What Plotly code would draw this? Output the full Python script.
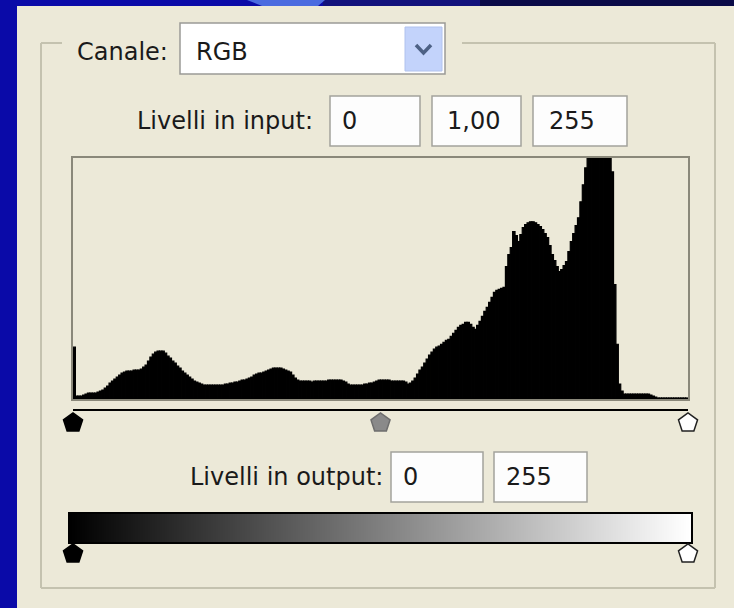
import plotly.graph_objects as go

W, H = 734, 608


def X(px):
    return px / W


def Y(py):
    return 1 - py / H


# ---------------- data ----------------
levels = list(range(256))
hist_counts = [
    52, 3, 3, 3, 4, 5, 6, 6, 6, 6,
    7, 8, 9, 11, 13, 16, 18, 20, 22, 24,
    26, 27, 28, 28, 28, 29, 29, 29, 30, 32,
    34, 38, 42, 45, 47, 48, 48, 48, 46, 43,
    41, 38, 36, 33, 31, 28, 26, 24, 22, 20,
    18, 17, 16, 15, 14, 14, 14, 14, 14, 14,
    14, 14, 14, 15, 15, 16, 16, 17, 17, 18,
    19, 19, 20, 21, 22, 24, 25, 26, 26, 27,
    28, 29, 30, 31, 31, 31, 31, 30, 29, 28,
    27, 24, 21, 19, 18, 18, 18, 18, 18, 17,
    18, 18, 18, 18, 18, 18, 19, 19, 19, 19,
    19, 19, 18, 17, 15, 14, 14, 14, 14, 14,
    14, 15, 15, 16, 16, 17, 18, 19, 19, 19,
    19, 19, 18, 18, 18, 18, 18, 18, 17, 15,
    16, 18, 21, 25, 29, 32, 36, 40, 44, 47,
    50, 52, 53, 55, 57, 59, 60, 63, 66, 69,
    72, 74, 75, 77, 77, 75, 72, 70, 74, 78,
    83, 88, 92, 97, 102, 107, 109, 110, 111, 112,
    133, 145, 152, 168, 164, 158, 165, 172, 175, 177,
    178, 178, 177, 175, 173, 170, 166, 162, 154, 145,
    139, 133, 128, 130, 134, 138, 148, 158, 166, 174,
    182, 198, 215, 232, 250, 262, 268, 272, 275, 273,
    270, 262, 255, 246, 228, 115, 55, 15, 8, 5,
    5, 5, 5, 5, 5, 5, 5, 5, 5, 5,
    4, 3, 2, 1, 1, 1, 1, 1, 1, 1,
    1, 1, 1, 1, 1, 1,
]
channel_label = "Canale:"
channel_value = "RGB"
input_label = "Livelli in input:"
output_label = "Livelli in output:"
input_black, input_gamma, input_white = 0, 1.00, 255
output_black, output_white = 0, 255

input_texts = [str(input_black), f"{input_gamma:.2f}".replace(".", ","), str(input_white)]
output_texts = [str(output_black), str(output_white)]
gamma_pos = input_black + (input_white - input_black) * 0.5 ** (1 / input_gamma)

# ---------------- style ----------------
FONT = dict(family="DejaVu Sans", size=24, color="#1a1a1a")
PANEL = "#ECE9D8"
GROUP = "#C4C2AF"
BOXLINE = "#A3A39C"

shapes = []


def rect(x0, y0, x1, y1, fill, line=None, lw=0, layer="below"):
    shapes.append(dict(type="rect", xref="paper", yref="paper",
                       x0=X(x0), x1=X(x1), y0=Y(y1), y1=Y(y0),
                       fillcolor=fill, layer=layer,
                       line=dict(color=line or fill, width=lw)))


def line(x0, y0, x1, y1, color, lw, layer="below"):
    shapes.append(dict(type="line", xref="paper", yref="paper",
                       x0=X(x0), x1=X(x1), y0=Y(y0), y1=Y(y1),
                       layer=layer, line=dict(color=color, width=lw)))


def path(points, fill=None, color="black", lw=0, closed=True):
    d = "M " + " L ".join(f"{X(a):.5f},{Y(b):.5f}" for a, b in points)
    if closed:
        d += " Z"
    shapes.append(dict(type="path", xref="paper", yref="paper", path=d,
                       fillcolor=fill if fill else "rgba(0,0,0,0)", layer="below",
                       line=dict(color=color, width=lw)))


# background top band
rect(323, 0, 480, 6, "#12127C")
rect(480, 0, 734, 6, "#0A0A48")
path([(247, 0), (325, 0), (318, 6), (262, 6)], fill="#4A6BE0", color="#4A6BE0", lw=0)
# panel
rect(17, 6, 734, 608, PANEL)
# group box
line(41, 43, 62, 43, GROUP, 2)
line(462, 43, 715, 43, GROUP, 2)
line(41, 43, 41, 588, GROUP, 2)
line(715, 43, 715, 588, GROUP, 2)
line(41, 588, 715, 588, GROUP, 2)
# dropdown
rect(180, 23, 445, 74, "#FFFFFF", "#9A9A96", 1.5)
rect(405, 27, 442, 71, "#C3D3FB", "#B0C2EE", 1)
path([(416, 45), (423.5, 53), (431, 45)], color="#4D6185", lw=3.5, closed=False)
# input boxes
for (a, b) in [(330, 420), (432, 521), (533, 627)]:
    rect(a, 96, b, 146, "#FDFDFD", BOXLINE, 1.5)
# output boxes
for (a, b) in [(391, 483), (494, 587)]:
    rect(a, 452, b, 502, "#FDFDFD", BOXLINE, 1.5)

annotations = []


def text(s, x, y, anchor):
    annotations.append(dict(text=s, x=X(x), y=Y(y), xref="paper", yref="paper",
                            xanchor=anchor, yanchor="middle", showarrow=False,
                            font=FONT))


text(channel_label, 75, 52, "left")
text(channel_value, 194, 52, "left")
text(input_label, 315, 121, "right")
for s, x in zip(input_texts, [340, 445, 547]):
    text(s, x, 121, "left")
text(output_label, 385, 477, "right")
for s, x in zip(output_texts, [401, 504]):
    text(s, x, 477, "left")

# ---------------- traces ----------------
fig = go.Figure()
fig.add_trace(go.Bar(x=levels, y=hist_counts, width=1,
                     marker=dict(color="black", line=dict(color="black", width=1.2)),
                     xaxis="x", yaxis="y", hoverinfo="skip"))

fig.add_trace(go.Scatter(
    x=[input_black, gamma_pos, input_white], y=[13, 13, 13], mode="markers",
    cliponaxis=False,
    marker=dict(symbol="pentagon", size=20,
                color=["#000000", "#8A8A8A", "#FFFFFF"],
                line=dict(color=["#000000", "#6E6E6E", "#222222"], width=1.5)),
    xaxis="x2", yaxis="y2", hoverinfo="skip"))

fig.add_trace(go.Heatmap(z=[levels], x=levels, y=[0], zmin=0, zmax=255,
                         colorscale=[[0, "#000000"], [1, "#FFFFFF"]],
                         showscale=False, xaxis="x3", yaxis="y3", hoverinfo="skip"))

fig.add_trace(go.Scatter(
    x=[output_black, output_white], y=[12, 12], mode="markers",
    cliponaxis=False,
    marker=dict(symbol="pentagon", size=20,
                color=["#000000", "#FFFFFF"],
                line=dict(color=["#000000", "#222222"], width=1.5)),
    xaxis="x4", yaxis="y4", hoverinfo="skip"))

hidden = dict(showgrid=False, zeroline=False, showticklabels=False, ticks="",
              fixedrange=True)

fig.update_layout(
    width=W, height=H, margin=dict(l=0, r=0, t=0, b=0),
    paper_bgcolor="#0A0AA8", plot_bgcolor="rgba(0,0,0,0)",
    showlegend=False, bargap=0, hovermode=False,
    shapes=shapes, annotations=annotations,
    xaxis=dict(domain=[X(73), X(688)], range=[-0.5, 255.5], anchor="y",
               showline=True, mirror=True, linecolor="#8A887A", linewidth=2, **hidden),
    yaxis=dict(domain=[Y(399), Y(158)], range=[0, 242], anchor="x",
               showline=True, mirror=True, linecolor="#8A887A", linewidth=2, **hidden),
    xaxis2=dict(domain=[X(73), X(688)], range=[0, 255], anchor="y2", side="top",
                showline=True, linecolor="black", linewidth=2, **hidden),
    yaxis2=dict(domain=[Y(436), Y(411)], range=[0, 25], anchor="x2",
                showline=False, **hidden),
    xaxis3=dict(domain=[X(70), X(691)], range=[-0.5, 255.5], anchor="y3",
                showline=True, mirror=True, linecolor="black", linewidth=2, **hidden),
    yaxis3=dict(domain=[Y(542), Y(514)], range=[-0.5, 0.5], anchor="x3",
                showline=True, mirror=True, linecolor="black", linewidth=2, **hidden),
    xaxis4=dict(domain=[X(73), X(688)], range=[0, 255], anchor="y4",
                showline=False, **hidden),
    yaxis4=dict(domain=[Y(566), Y(544)], range=[0, 22], anchor="x4",
                showline=False, **hidden),
)

fig.write_html("out.html", config={"displayModeBar": False, "staticPlot": True},
               post_script="document.body.style.margin='0';document.body.style.overflow='hidden';")
